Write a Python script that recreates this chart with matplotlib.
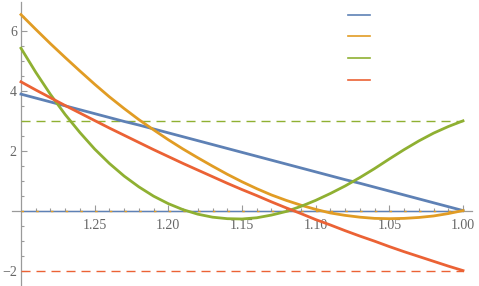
import matplotlib
matplotlib.use('Agg')
import matplotlib.pyplot as plt
from matplotlib.lines import Line2D
import numpy as np

# values (x runs from 1.30 down to 1.00, step 0.01)
x_vals = [1.30, 1.29, 1.28, 1.27, 1.26, 1.25, 1.24, 1.23, 1.22, 1.21, 1.20,
          1.19, 1.18, 1.17, 1.16, 1.15, 1.14, 1.13, 1.12, 1.11, 1.10,
          1.09, 1.08, 1.07, 1.06, 1.05, 1.04, 1.03, 1.02, 1.01, 1.00]
blue_vals = [3.88, 3.75, 3.62, 3.49, 3.36, 3.23, 3.10, 2.97, 2.85, 2.72, 2.59,
             2.46, 2.33, 2.20, 2.07, 1.94, 1.81, 1.68, 1.55, 1.42, 1.29,
             1.16, 1.03, 0.91, 0.78, 0.65, 0.52, 0.39, 0.26, 0.13, 0.00]
orange_vals = [6.53, 6.04, 5.56, 5.10, 4.65, 4.21, 3.79, 3.40, 3.03, 2.69, 2.36,
               2.05, 1.76, 1.48, 1.21, 0.96, 0.73, 0.52, 0.34, 0.18, 0.04,
               -0.08, -0.16, -0.22, -0.26, -0.27, -0.26, -0.23, -0.18, -0.10, 0.00]
green_vals = [5.41, 4.61, 3.87, 3.20, 2.60, 2.05, 1.57, 1.15, 0.79, 0.48, 0.23,
              0.03, -0.12, -0.22, -0.27, -0.28, -0.24, -0.15, -0.03, 0.14, 0.34,
              0.57, 0.82, 1.10, 1.40, 1.72, 2.03, 2.32, 2.58, 2.80, 2.99]
red_vals = [4.29, 4.02, 3.76, 3.50, 3.25, 3.00, 2.75, 2.51, 2.27, 2.03, 1.80,
            1.57, 1.35, 1.13, 0.91, 0.70, 0.50, 0.29, 0.09, -0.10, -0.30,
            -0.48, -0.67, -0.85, -1.02, -1.20, -1.37, -1.53, -1.69, -1.85, -2.00]
# dashed reference level of each series
levels = {'blue': 0.0, 'orange': 0.0, 'green': 3.0, 'red': -2.0}

x_major = [1.25, 1.20, 1.15, 1.10, 1.05, 1.00]
y_major = [-2, 2, 4, 6]

C = {'blue': '#5E81B5', 'orange': '#E19C24', 'green': '#8FB032', 'red': '#EB6235'}
AX_COL = '#9a9a9a'
LBL_COL = '#666666'

W, H = 479, 286
fig = plt.figure(figsize=(W / 100, H / 100), dpi=100)
ax = fig.add_axes([12 / W, 1 - 285 / H, (472 - 12) / W, (285 - 2) / H])

x = np.array(x_vals)
x0, x1 = x.max(), x.min()

# dashed levels (under the curves)
ax.hlines(levels['green'], x0, x1, colors=C['green'], lw=1.0,
          linestyles=(0, (6.5, 4.3)), zorder=2)
ax.hlines(levels['red'], x0, x1, colors=C['red'], lw=1.0,
          linestyles=(0, (6.5, 4.3)), zorder=2)
ax.hlines(levels['blue'], x0, x1, colors=C['blue'], lw=1.0, zorder=2)
ax.hlines(levels['orange'], x0, x1, colors=C['orange'], lw=1.0,
          linestyles=(0, (1.8, 8.8)), zorder=2)

series = [('blue', blue_vals), ('orange', orange_vals),
          ('green', green_vals), ('red', red_vals)]
for name, vals in series:
    ax.plot(x, vals, color=C[name], lw=2.0, solid_joinstyle='round', zorder=3)

ax.set_xlim(1.3061, 0.9939)
ax.set_ylim(-2.48, 6.95)

for s in ('top', 'right'):
    ax.spines[s].set_visible(False)
ax.spines['bottom'].set_position(('data', 0))
ax.spines['left'].set_position(('data', 1.30))
for s in ('bottom', 'left'):
    ax.spines[s].set_color(AX_COL)
    ax.spines[s].set_linewidth(0.9)
    ax.spines[s].set_zorder(1)

ax.set_xticks(x_major)
ax.set_xticklabels([f'{v:.2f}' for v in x_major])
ax.set_xticks([v for v in np.round(np.arange(1.01, 1.30, 0.01), 2)
               if not np.isclose(v * 20, round(v * 20))], minor=True)
ax.set_yticks(y_major)
ax.set_yticklabels(['\u22122' if v < 0 else str(v) for v in y_major])
ax.set_yticks([v for v in np.arange(-2.0, 6.51, 0.5) if v % 2 != 0], minor=True)

ax.tick_params(axis='both', which='both', direction='in', color=AX_COL,
               labelcolor=LBL_COL, labelsize=10, width=0.8)
ax.tick_params(axis='both', which='major', length=4.0)
ax.tick_params(axis='both', which='minor', length=2.2)
ax.tick_params(axis='x', which='major', pad=6)
ax.tick_params(axis='y', which='major', pad=3)
for lbl in ax.get_xticklabels() + ax.get_yticklabels():
    lbl.set_family(['Liberation Serif', 'DejaVu Serif'])

handles = [Line2D([], [], color=C[n], lw=1.2) for n, _ in series]
ax.legend(handles, [''] * 4, loc='upper left', frameon=False,
          bbox_to_anchor=(348 / W, 1 - 14 / H), bbox_transform=fig.transFigure,
          fontsize=1, handlelength=15.8, handletextpad=0, labelspacing=15.1,
          borderpad=0, borderaxespad=0)

fig.savefig('out.png', dpi=100)
